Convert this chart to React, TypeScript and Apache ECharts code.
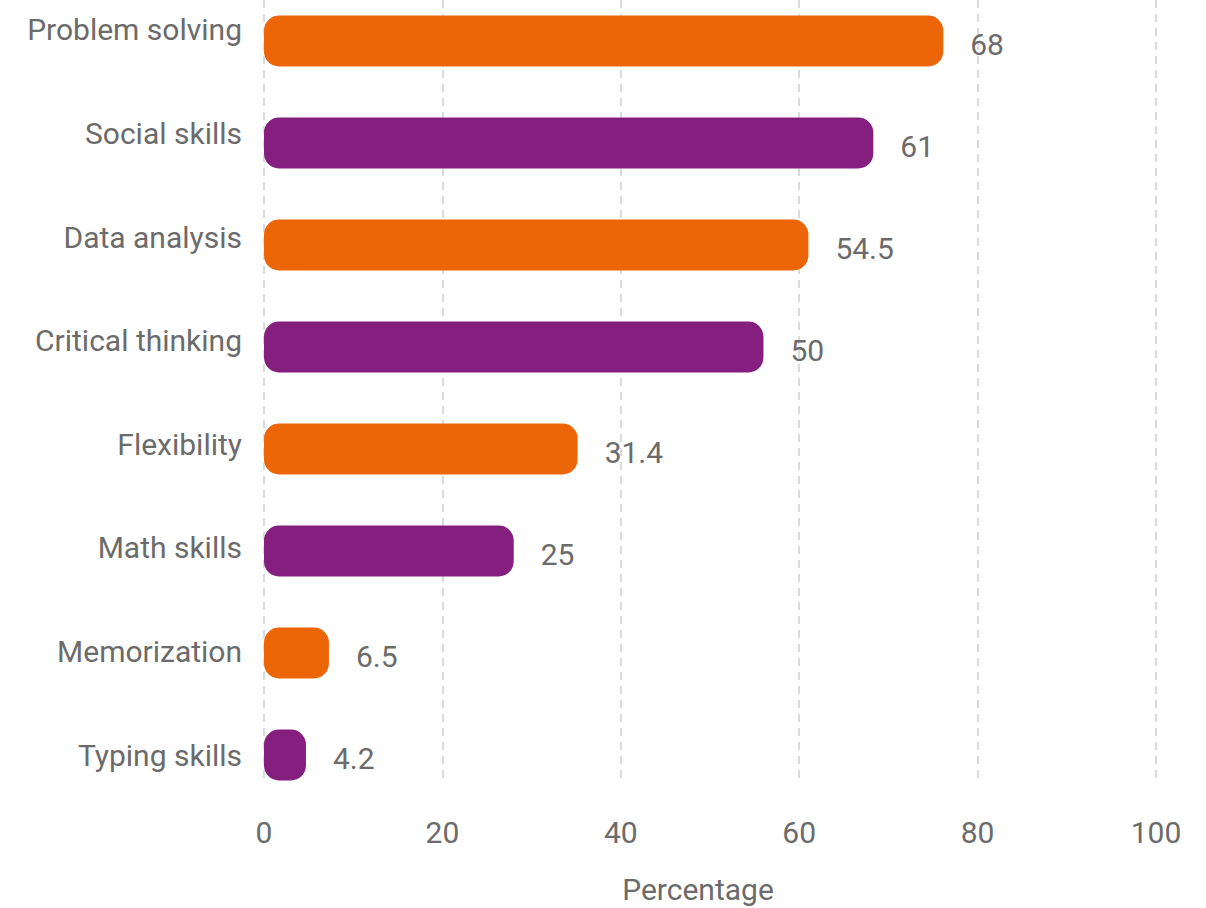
import React, { useEffect, useRef } from "react";
import * as echarts from "echarts";

const categories = [
  "Problem solving",
  "Social skills",
  "Data analysis",
  "Critical thinking",
  "Flexibility",
  "Math skills",
  "Memorization",
  "Typing skills",
];
const values = [68, 61, 54.5, 50, 31.4, 25, 6.5, 4.2];
const barColors = ["#EC6608", "#841F7F"];
const axisMin = 0;
const axisMax = 100;
const axisStep = 20;
const axisTitle = "Percentage";

const FONT = "Roboto, 'Noto Sans', sans-serif";
const TEXT = "#6b6b6b";

export default function App() {
  const ref = useRef<HTMLDivElement>(null);
  useEffect(() => {
    if (!ref.current) return;
    const chart = echarts.init(ref.current, undefined, { renderer: "svg" });
    const option: any = {
      animation: false,
      backgroundColor: "#ffffff",
      textStyle: { fontFamily: FONT },
      grid: [
        { left: 264, width: 892, top: 0, height: 781, outerBoundsMode: "none", containLabel: false },
        { left: 264, width: 892, top: -10, height: 816, outerBoundsMode: "none", containLabel: false },
        { left: 264, width: 892, top: -22, height: 829, outerBoundsMode: "none", containLabel: false },
      ],
      xAxis: [
        {
          gridIndex: 0,
          type: "value",
          min: axisMin,
          max: axisMax,
          interval: axisStep,
          axisLine: { show: false },
          axisTick: { show: false },
          splitLine: {
            show: true,
            lineStyle: { color: "#cfcfcf", width: 1.5, type: [8, 6] },
          },
          axisLabel: { margin: 36, fontSize: 30, color: TEXT, fontFamily: FONT },
          name: axisTitle,
          nameLocation: "middle",
          nameGap: 93,
          nameTextStyle: { fontSize: 30, color: TEXT, fontFamily: FONT, padding: [0, 24, 0, 0] },
        },
        { gridIndex: 1, type: "value", min: 0, max: 89.3, show: false },
        { gridIndex: 2, type: "value", min: 0, max: 1, show: false },
      ],
      yAxis: [
        { gridIndex: 0, type: "category", data: categories, show: false },
        { gridIndex: 1, type: "category", data: categories, inverse: true, show: false },
        {
          gridIndex: 2,
          type: "category",
          data: categories,
          inverse: true,
          axisLine: { show: false },
          axisTick: { show: false },
          splitLine: { show: false },
          axisLabel: { margin: 22, fontSize: 30, color: TEXT, fontFamily: FONT },
        },
      ],
      series: [
        {
          type: "bar",
          xAxisIndex: 1,
          yAxisIndex: 1,
          barWidth: 51,
          data: values.map((v, i) => ({
            value: v,
            itemStyle: { color: barColors[i % 2], borderRadius: 15 },
          })),
          label: {
            show: true,
            position: "right",
            distance: 27,
            offset: [0, 3],
            fontSize: 30,
            color: TEXT,
            fontFamily: FONT,
          },
        },
      ],
    };
    chart.setOption(option);
    return () => chart.dispose();
  }, []);
  return (
    <div
      ref={ref}
      style={{ position: "fixed", left: 0, top: 0, width: 1206, height: 908 }}
    />
  );
}
